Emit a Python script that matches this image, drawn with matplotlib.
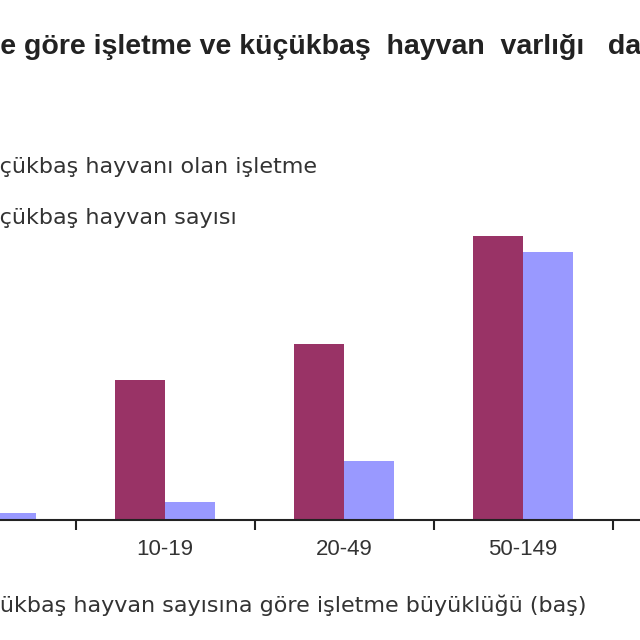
import matplotlib.pyplot as plt
import numpy as np

categories = ["1-9", "10-19", "20-49", "50-149", "150+"]
isletme = [10.5, 19.7, 24.8, 40.0, 5.0]
hayvan = [1.0, 2.5, 8.3, 37.7, 50.5]

red = "#993366"
blue = "#9999FF"

fig = plt.figure(figsize=(6.4, 6.4), dpi=100)
ax = fig.add_axes([0, 120 / 640, 1, 520 / 640])

x = np.arange(len(categories))
w = 0.28
ax.bar(x - w / 2, isletme, w, color=red)
ax.bar(x + w / 2, hayvan, w, color=blue)

ax.set_xticks(x[:-1] + 0.5)
ax.set_xticklabels([])
ax.set_xticks(x, categories, minor=True)
ax.tick_params(axis="x", which="major", length=7, width=1.5, color="#222222", direction="out")
ax.tick_params(axis="x", which="minor", length=0, pad=14, labelsize=16, labelcolor="#333333")
for lab in ax.get_xticklabels(minor=True):
    lab.set_family("Liberation Sans")
ax.set_yticks([])
for s in ["top", "right", "left"]:
    ax.spines[s].set_visible(False)
ax.spines["bottom"].set_linewidth(1.5)
ax.spines["bottom"].set_color("#222222")

# the picture is a crop of a wider chart
ax.set_xlim(14 / 179, 654 / 179)
ax.set_ylim(0, 520 / 7.1)

renderer = fig.canvas.get_renderer()


def cut_text(full, hidden, x_px, y_px, **kw):
    # start the text left of the canvas so only the visible part shows
    t = fig.text(0, 0, hidden, **kw)
    wpx = t.get_window_extent(renderer).width
    t.remove()
    fig.text((x_px - wpx) / 640, 1 - y_px / 640, full, ha="left", va="center", **kw)


cut_text("İşletme büyüklüğüne göre işletme ve küçükbaş  hayvan  varlığı   dağılımı",
         "İşletme büyüklüğün", 0, 45,
         fontsize=20.5, fontweight="bold", family="Liberation Sans", color="#222222")
cut_text("Küçükbaş hayvanı olan işletme", "Kü", 0, 167, fontsize=16, color="#333333")
cut_text("Küçükbaş hayvan sayısı", "Kü", 0, 218, fontsize=16, color="#333333")
cut_text("Küçükbaş hayvan sayısına göre işletme büyüklüğü (baş)", "Küç", 0, 605,
         fontsize=16, color="#333333")

fig.savefig("out.png", dpi=100)
